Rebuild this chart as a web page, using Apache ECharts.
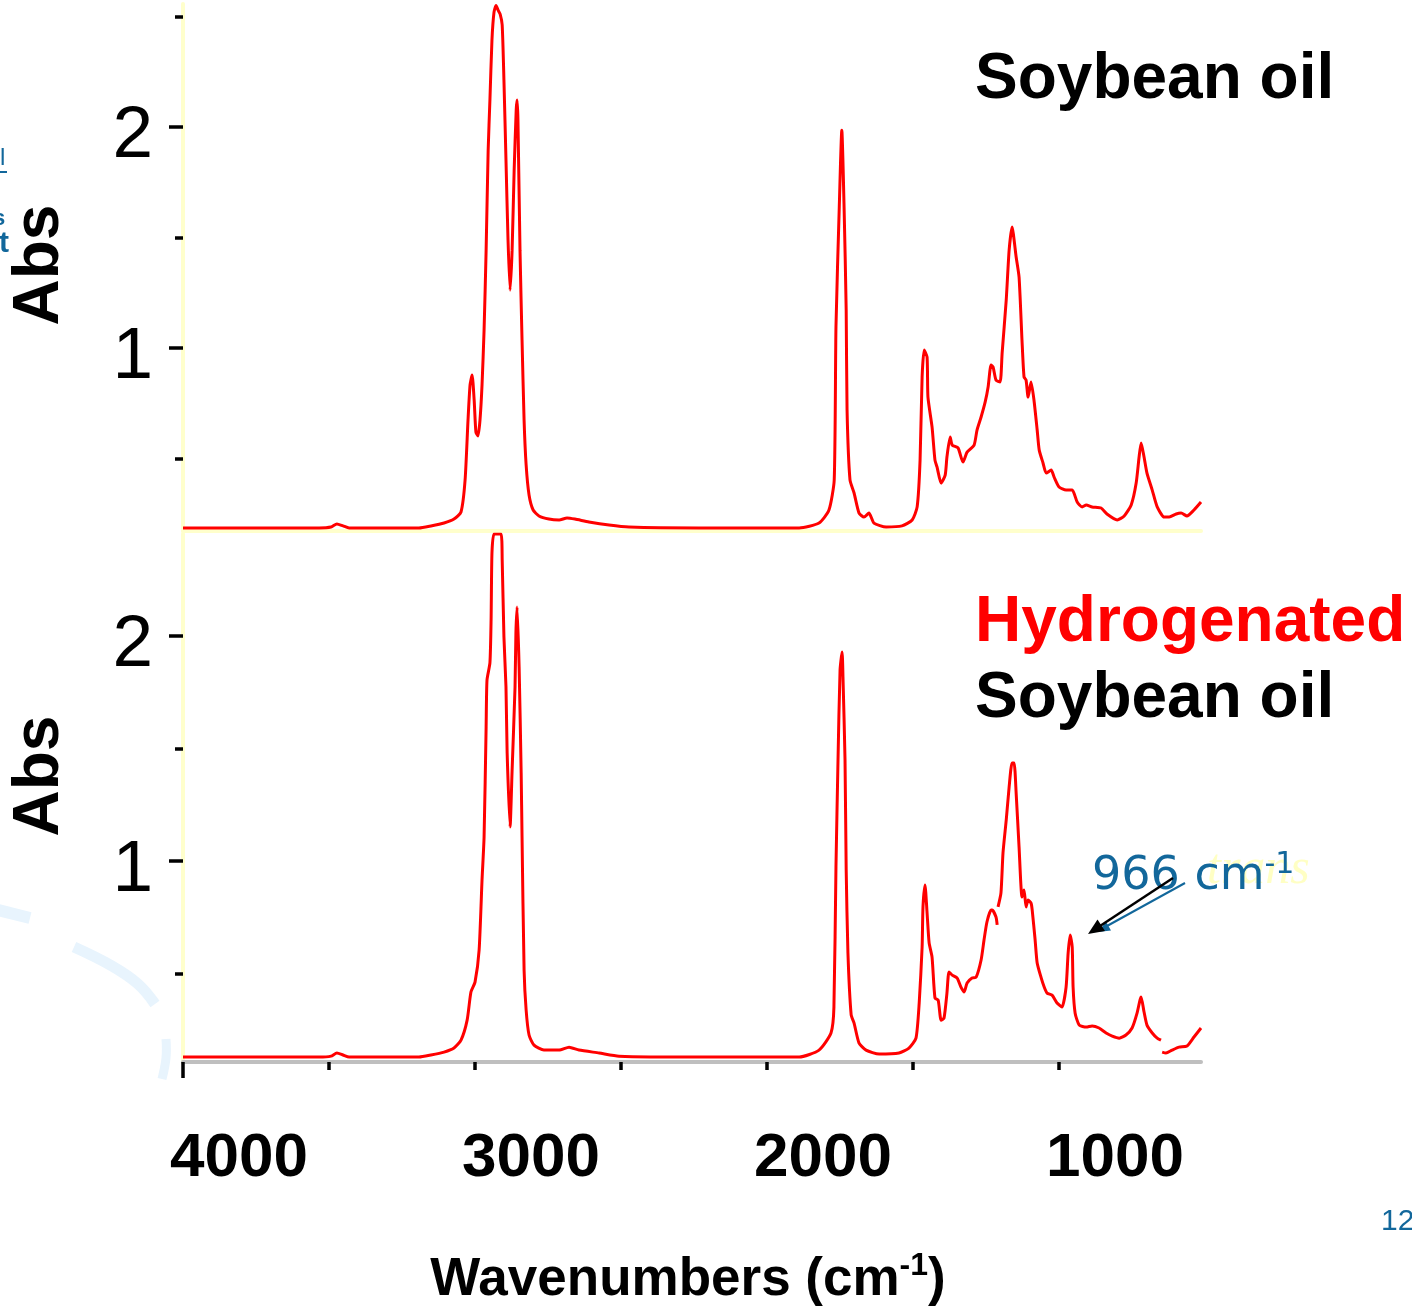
<!DOCTYPE html>
<html>
<head>
<meta charset="utf-8">
<script src="https://cdn.jsdelivr.net/npm/echarts@6/dist/echarts.min.js"></script>
<style>
  html, body { margin: 0; padding: 0; background: #ffffff; }
  #chart { width: 1412px; height: 1311px; }
</style>
</head>
<body>
<div id="chart"></div>
<script>
// FTIR absorbance spectra: soybean oil (upper panel) and hydrogenated soybean oil (lower panel)

// Wavenumber axis ticks and labels (cm-1)
const wnTicks = [4000, 3500, 3000, 2500, 2000, 1500, 1000];
const wnLabels = [4000, 3000, 2000, 1000];
const absMajor = [1, 2];
const absMinorTop = [0.5, 1.5, 2.5];
const absMinorBottom = [0.5, 1.5];

// Soybean oil
const soyWn = [4000,3774,3534,3493,3473,3452,3431,3192,3151,3106,
  3072,3048,3034,3024,3017,3010,3003,2997,2990,2983,
  2976,2969,2962,2955,2949,2942,2935,2928,2921,2914,
  2907,2901,2894,2887,2880,2873,2866,2859,2856,2853,
  2846,2839,2832,2825,2815,2801,2781,2747,2712,2685,
  2658,2610,2541,2473,2233,1890,1822,1788,1770,1764,
  1753,1744,1736,1729,1726,1716,1702,1685,1668,1651,
  1634,1592,1538,1503,1486,1476,1469,1462,1452,1449,
  1435,1425,1418,1404,1390,1384,1373,1366,1346,1329,
  1315,1291,1281,1267,1253,1243,1233,1226,1216,1202,
  1195,1181,1171,1161,1147,1137,1127,1120,1113,1106,
  1096,1086,1075,1068,1055,1044,1027,1017,1000,976,
  955,938,921,907,887,856,836,801,777,753,
  736,726,719,709,699,681,664,640,623,599,
  582,562,538,514];
const soyAbs = [0.186,0.186,0.186,0.190,0.204,0.195,0.186,0.186,0.195,0.208,
  0.226,0.258,0.403,0.674,0.833,0.878,0.765,0.620,0.602,0.674,
  0.833,1.081,1.443,1.896,2.122,2.394,2.520,2.550,2.529,2.511,
  2.462,2.213,1.851,1.489,1.262,1.443,1.805,2.077,2.122,2.032,
  1.443,1.036,0.674,0.471,0.335,0.267,0.240,0.226,0.222,0.231,
  0.226,0.213,0.199,0.190,0.186,0.186,0.208,0.267,0.403,1.095,
  1.624,1.986,1.624,1.172,0.719,0.403,0.344,0.253,0.235,0.253,
  0.208,0.190,0.195,0.222,0.281,0.493,0.869,0.991,0.959,0.778,
  0.643,0.493,0.462,0.389,0.425,0.507,0.597,0.561,0.548,0.484,
  0.529,0.561,0.629,0.688,0.756,0.824,0.923,0.914,0.855,0.846,
  0.977,1.217,1.443,1.548,1.412,1.321,1.036,0.869,0.855,0.778,
  0.846,0.765,0.629,0.538,0.480,0.434,0.448,0.416,0.371,0.357,
  0.357,0.303,0.281,0.290,0.281,0.276,0.249,0.222,0.240,0.290,
  0.389,0.507,0.570,0.507,0.434,0.357,0.281,0.235,0.235,0.249,
  0.253,0.240,0.267,0.303];

// Hydrogenated soybean oil (null = break in the recorded trace)
const hydWn = [4000,3534,3493,3473,3452,3431,3192,3151,3106,3072,
  3048,3027,3014,3000,2986,2976,2969,2962,2959,2949,
  2945,2942,2935,2911,2907,2901,2894,2890,2880,2873,
  2863,2860,2856,2849,2842,2839,2832,2825,2815,2798,
  2764,2712,2678,2644,2575,2507,2233,1890,1822,1781,
  1771,1764,1757,1750,1743,1740,1733,1729,1723,1712,
  1702,1685,1661,1616,1548,1514,1490,1479,1469,1466,
  1459,1452,1445,1435,1425,1414,1404,1394,1384,1377,
  1366,1349,1336,1325,1315,1298,1284,1267,1257,1247,
  1233,1229,1216,1212,1210,1209,1199,1192,1181,1171,
  1161,1154,1147,1137,1127,1120,1113,1106,1096,1092,
  1082,1075,1062,1051,1041,1024,1007,990,976,969,
  962,955,952,945,931,907,887,863,839,818,
  794,771,750,733,723,719,709,699,681,664,
  651,649,647,634,613,589,562,538,
  514];
const hydAbs = [0.129,0.129,0.133,0.147,0.138,0.129,0.129,0.138,0.151,0.169,
  0.204,0.293,0.418,0.462,0.604,0.916,1.107,1.596,1.804,1.880,
  2.071,2.369,2.453,2.453,2.338,1.996,1.773,1.480,1.151,1.404,
  1.773,2.013,2.129,1.862,1.391,1.107,0.516,0.338,0.227,0.182,
  0.160,0.160,0.173,0.160,0.147,0.133,0.129,0.129,0.160,0.236,
  0.351,0.973,1.449,1.849,1.929,1.818,1.449,0.960,0.591,0.316,
  0.280,0.191,0.160,0.142,0.147,0.169,0.213,0.369,0.618,0.796,
  0.893,0.769,0.636,0.573,0.391,0.382,0.293,0.302,0.413,0.507,
  0.493,0.480,0.440,0.418,0.458,0.480,0.484,0.560,0.649,0.729,
  0.782,0.782,0.751,0.716,null,0.796,0.858,1.036,1.182,1.329,
  1.436,1.436,1.302,1.062,0.840,0.871,0.796,0.827,0.813,0.782,
  0.649,0.547,0.484,0.440,0.413,0.404,0.369,0.351,0.440,0.591,
  0.671,0.618,0.440,0.324,0.271,0.262,0.267,0.258,0.236,0.222,
  0.213,0.227,0.258,0.324,0.382,0.396,0.329,0.271,0.236,0.213,
  0.204,null,0.151,0.147,0.160,0.173,0.178,0.218,
  0.258];

const pairs = (xs, ys) => xs.map((x, i) => [x, ys[i] == null ? '-' : ys[i]]);

const FONT = '"Liberation Sans", Arial, sans-serif';
const AXIS_YELLOW = '#ffffcc';
const WN_MIN = 514, WN_MAX = 4000;

function absAxis(grid, min, max, major, minor) {
  return [
    {
      type: 'value', gridIndex: grid, position: 'left', min: min, max: max,
      axisLine: { show: true, lineStyle: { color: AXIS_YELLOW, width: 4 } },
      axisTick: { show: true, customValues: major, length: 14, lineStyle: { color: '#000', width: 3.5 } },
      axisLabel: { show: true, customValues: major, fontFamily: FONT, fontSize: 73, color: '#000',
                   margin: 30, verticalAlign: 'top', lineHeight: 20, formatter: v => String(v) },
      splitLine: { show: false }
    },
    {
      type: 'value', gridIndex: grid, position: 'left', min: min, max: max,
      axisLine: { show: false },
      axisTick: { show: true, customValues: minor, length: 8, lineStyle: { color: '#000', width: 3.5 } },
      axisLabel: { show: false },
      splitLine: { show: false }
    }
  ];
}

const chart = echarts.init(document.getElementById('chart'), null, { renderer: 'canvas' });

const blue = '#12679b';
const traceStyle = { color: '#ff0000', width: 3 };

chart.setOption({
  animation: false,
  backgroundColor: '#ffffff',
  grid: [
    { left: 183, top: 4, width: 1018, height: 527 },
    { left: 183, top: 534, width: 1018, height: 528 }
  ],
  xAxis: [
    {
      type: 'value', gridIndex: 0, inverse: true, min: WN_MIN, max: WN_MAX,
      axisLine: { show: true, lineStyle: { color: AXIS_YELLOW, width: 4 } },
      axisTick: { show: false }, axisLabel: { show: false }, splitLine: { show: false }
    },
    {
      type: 'value', gridIndex: 1, inverse: true, min: WN_MIN, max: WN_MAX, position: 'bottom',
      axisLine: { show: true, lineStyle: { color: '#bfbfbf', width: 4 } },
      axisTick: { show: true, customValues: wnTicks, length: 8, lineStyle: { color: '#000', width: 3.5 } },
      axisLabel: {
        show: true, customValues: wnLabels, fontFamily: FONT, fontWeight: 'bold', fontSize: 62,
        color: '#000', margin: 66, align: 'center', padding: [0, 0, 0, 112],
        formatter: v => String(v)
      },
      splitLine: { show: false }
    },
    {
      type: 'value', gridIndex: 1, inverse: true, min: WN_MIN, max: WN_MAX, position: 'bottom',
      axisLine: { show: false },
      axisTick: { show: true, customValues: [WN_MAX], length: 16, lineStyle: { color: '#000', width: 3.5 } },
      axisLabel: { show: false }, splitLine: { show: false }
    }
  ],
  yAxis: [
    ...absAxis(0, 0.172, 2.557, absMajor, absMinorTop),
    ...absAxis(1, 0.107, 2.453, absMajor, absMinorBottom)
  ],
  series: [
    {
      name: 'Soybean oil', type: 'line', xAxisIndex: 0, yAxisIndex: 0,
      data: pairs(soyWn, soyAbs), showSymbol: false, clip: true,
      smooth: 0.2, lineStyle: traceStyle
    },
    {
      name: 'Hydrogenated Soybean oil', type: 'line', xAxisIndex: 1, yAxisIndex: 2,
      data: pairs(hydWn, hydAbs), showSymbol: false, clip: true, connectNulls: false,
      smooth: 0.2, lineStyle: traceStyle
    }
  ],
  graphic: [
    // faint watermark arcs
    { type: 'polyline', z: -1, shape: { points: [[-6, 909], [30, 918]] },
      style: { stroke: '#e8f4fd', lineWidth: 12, fill: null } },
    { type: 'polyline', z: -1, shape: { points: [[74, 947], [112, 966], [138, 984], [155, 1004]], smooth: 0.4 },
      style: { stroke: '#e8f4fd', lineWidth: 11, fill: null } },
    { type: 'polyline', z: -1, shape: { points: [[166, 1039], [166, 1058], [162, 1079]], smooth: 0.4 },
      style: { stroke: '#e8f4fd', lineWidth: 9, fill: null } },

    // clipped margin notes at the left edge
    { type: 'text', x: 0, y: 146, style: { text: 'l', font: '24px ' + FONT, fill: blue } },
    { type: 'rect', shape: { x: 0, y: 171, width: 7, height: 2 }, style: { fill: blue } },
    { type: 'text', x: -7, y: 208, style: { text: 's', font: 'bold 22px ' + FONT, fill: blue } },
    { type: 'text', x: -1, y: 229, style: { text: 't', font: 'bold 30px ' + FONT, fill: blue } },

    // y-axis titles
    { type: 'text', x: 40, y: 265, rotation: Math.PI / 2,
      style: { text: 'Abs', font: 'bold 64px ' + FONT, fill: '#000', align: 'center', verticalAlign: 'middle' } },
    { type: 'text', x: 40, y: 776, rotation: Math.PI / 2,
      style: { text: 'Abs', font: 'bold 64px ' + FONT, fill: '#000', align: 'center', verticalAlign: 'middle' } },

    // panel titles
    { type: 'text', x: 975, y: 80,
      style: { text: 'Soybean oil', font: 'bold 64px ' + FONT, fill: '#000', verticalAlign: 'middle' } },
    { type: 'text', x: 975, y: 623,
      style: { text: 'Hydrogenated', font: 'bold 64px ' + FONT, fill: '#ff0000', verticalAlign: 'middle' } },
    { type: 'text', x: 975, y: 699,
      style: { text: 'Soybean oil', font: 'bold 64px ' + FONT, fill: '#000', verticalAlign: 'middle' } },

    // trans band annotation
    { type: 'text', x: 1207, y: 870,
      style: { text: 'trans', font: 'italic 50px "Liberation Serif", serif', fill: '#ffffc4', verticalAlign: 'middle' } },
    { type: 'text', x: 1092, y: 877,
      style: {
        text: '{n|966 cm}{s|-1}', verticalAlign: 'middle',
        rich: {
          n: { fontFamily: '"DejaVu Sans", Verdana, sans-serif', fontSize: 46, fill: blue, lineHeight: 54 },
          s: { fontFamily: '"DejaVu Sans", Verdana, sans-serif', fontSize: 30, fill: blue, verticalAlign: 'top', lineHeight: 30 }
        }
      } },
    { type: 'line', shape: { x1: 1185, y1: 883, x2: 1107, y2: 926 }, style: { stroke: blue, lineWidth: 2 } },
    { type: 'polygon', shape: { points: [[1098, 932], [1111, 930.5], [1106, 921.7]] }, style: { fill: blue } },
    { type: 'line', shape: { x1: 1173, y1: 878, x2: 1100, y2: 926 }, style: { stroke: '#000', lineWidth: 2.5 } },
    { type: 'polygon', shape: { points: [[1088, 934], [1105, 931], [1097.5, 919.4]] }, style: { fill: '#000' } },

    // page number
    { type: 'text', x: 1381, y: 1222,
      style: { text: '12', font: '30px ' + FONT, fill: blue, verticalAlign: 'middle' } },

    // x-axis title
    { type: 'text', x: 688, y: 1280,
      style: {
        text: '{a|Wavenumbers (cm}{s|-1}{a|)}', align: 'center', verticalAlign: 'middle',
        rich: {
          a: { fontFamily: FONT, fontWeight: 'bold', fontSize: 53, fill: '#000', lineHeight: 60 },
          s: { fontFamily: FONT, fontWeight: 'bold', fontSize: 32, fill: '#000', verticalAlign: 'top', lineHeight: 30 }
        }
      } }
  ]
});
</script>
</body>
</html>
